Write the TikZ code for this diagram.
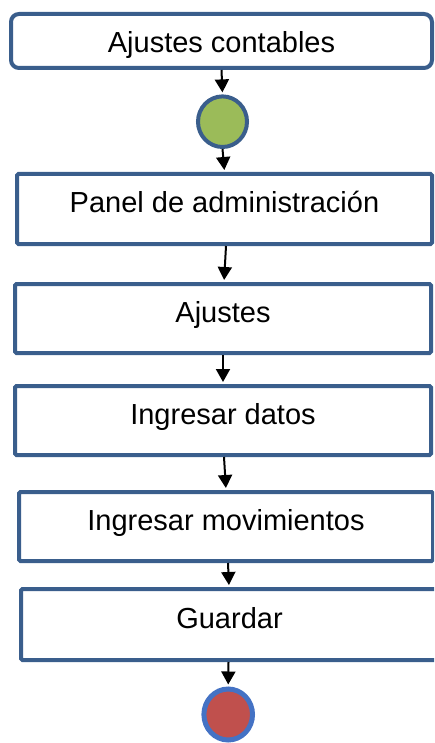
\documentclass[tikz,border=0pt]{standalone}
\usepackage{fontspec}
\setmainfont{Liberation Sans}
\usetikzlibrary{arrows.meta,shapes.geometric}
\definecolor{boxblue}{HTML}{3A5E8C}
\definecolor{endblue}{HTML}{4472C4}
\definecolor{startgreen}{HTML}{9BBB59}
\definecolor{endred}{HTML}{C0504D}
\tikzset{
  stepbox/.style={draw=boxblue, line width=4pt, fill=white, rectangle, rounded corners=1.5pt,
    inner sep=0pt, font=\fontsize{29pt}{34pt}\selectfont, text height=21pt, text depth=13pt},
  conn/.style={draw=black, line width=2pt, -{Triangle[length=13pt,width=14pt]}, shorten >=2pt},
}
\begin{document}
\begin{tikzpicture}[x=1pt,y=-1pt]
\useasboundingbox (0,0) rectangle (434,743);
\clip (0,0) rectangle (434,743);
\node[stepbox, rounded corners=8pt, minimum width=421pt, minimum height=54pt, text height=24pt, text depth=0pt] (top) at (221.5,41) {Ajustes contables};
\node[draw=boxblue, line width=4pt, fill=startgreen, ellipse, inner sep=0pt, minimum width=49pt, minimum height=50.6pt] (start) at (222.5,121.7) {};
\node[stepbox, minimum width=415pt, minimum height=70pt] (panel) at (224.5,209) {Panel de administración};
\node[stepbox, minimum width=416pt, minimum height=69pt] (ajustes) at (223,318.5) {Ajustes};
\node[stepbox, minimum width=416pt, minimum height=69pt] (datos) at (223,420.5) {Ingresar datos};
\node[stepbox, minimum width=414pt, minimum height=69pt] (mov) at (226,526.5) {Ingresar movimientos};
\node[stepbox, minimum width=417pt, minimum height=71pt] (guardar) at (229.5,624.5) {Guardar};
\node[draw=endblue, line width=5pt, fill=endred, ellipse, inner sep=0pt, minimum width=48.6pt, minimum height=51pt] (end) at (228.2,714.5) {};
\draw[conn] (top.south) -- (start.north);
\draw[conn] (start.south) -- (panel.north);
\draw[conn] ([xshift=1.5pt]panel.south) -- ([xshift=1pt]ajustes.north);
\draw[conn] (ajustes.south) -- (datos.north);
\draw[conn] ([xshift=1pt]datos.south) -- (mov.north);
\draw[conn] ([xshift=2pt]mov.south) -- ([xshift=-0.5pt]guardar.north);
\draw[conn] ([xshift=-1pt]guardar.south) -- (end.north);
\end{tikzpicture}
\end{document}
